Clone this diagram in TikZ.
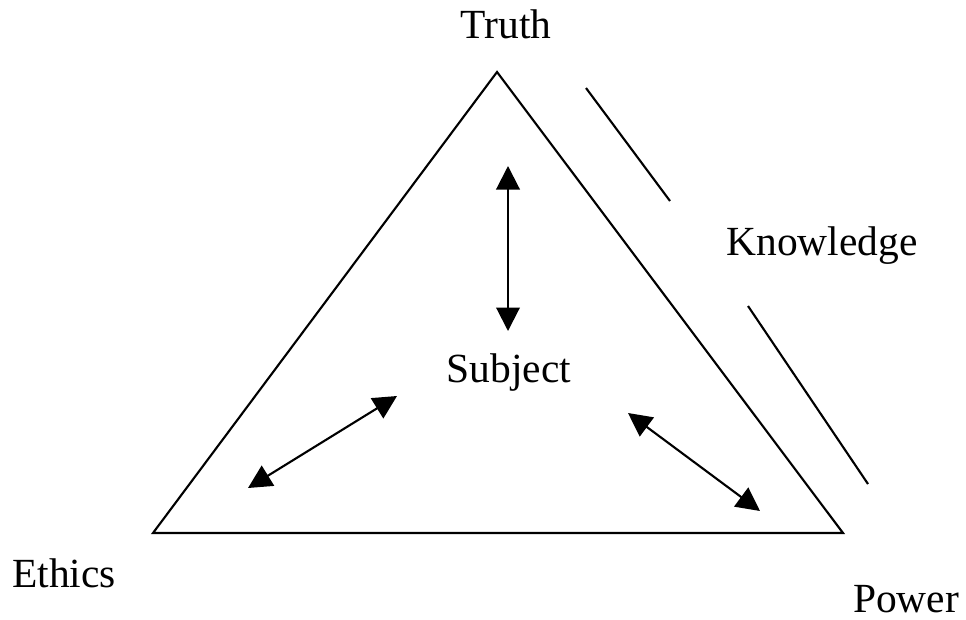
\documentclass[tikz,border=0pt]{standalone}
\usepackage{fontspec}
\setmainfont{Liberation Serif}
\usetikzlibrary{arrows.meta, positioning}

\begin{document}
\begin{tikzpicture}[
    x=0.02cm,
    y=-0.02cm,
    side/.style={
        line width=1.2pt,
        line join=miter,
    },
    link/.style={
        line width=1.2pt,
        {Triangle[length=0.47cm, width=0.47cm]}-{Triangle[length=0.47cm, width=0.47cm]},
    },
    term/.style={
        font=\fontsize{23.6}{28}\selectfont,
        anchor=base,
        inner sep=0pt,
    }
]
    \useasboundingbox (0,0) rectangle (966,619);

    % Corners
    \coordinate (top) at (497,72);
    \coordinate (left) at (153,533);
    \coordinate (right) at (843,533);

    % Triangle
    \draw[side] (top) -- (left) -- (right) -- cycle;

    % Labels
    \node[term] (truth) at (506,38) {Truth};
    \node[term] (ethics) at (64,587) {Ethics};
    \node[term] (power) at (906,612) {Power};
    \node[term] (subject) at (509,382) {Subject};
    \node[term] (knowledge) at (822,255) {Knowledge};

    % Knowledge strokes
    \coordinate (k1a) at (586,88);
    \coordinate (k1b) at (670,201);
    \coordinate (k2a) at (748,306);
    \coordinate (k2b) at (868,484);
    \draw[side] (k1a) -- (k1b);
    \draw[side] (k2a) -- (k2b);

    % Arrows
    \coordinate (up) at (508,166);
    \coordinate (down) at (508,331);
    \coordinate (sw) at (248,488);
    \coordinate (ne) at (397,396);
    \coordinate (nw) at (628,413);
    \coordinate (se) at (760,511);
    \draw[link] (up) -- (down);
    \draw[link] (sw) -- (ne);
    \draw[link] (nw) -- (se);
\end{tikzpicture}
\end{document}
